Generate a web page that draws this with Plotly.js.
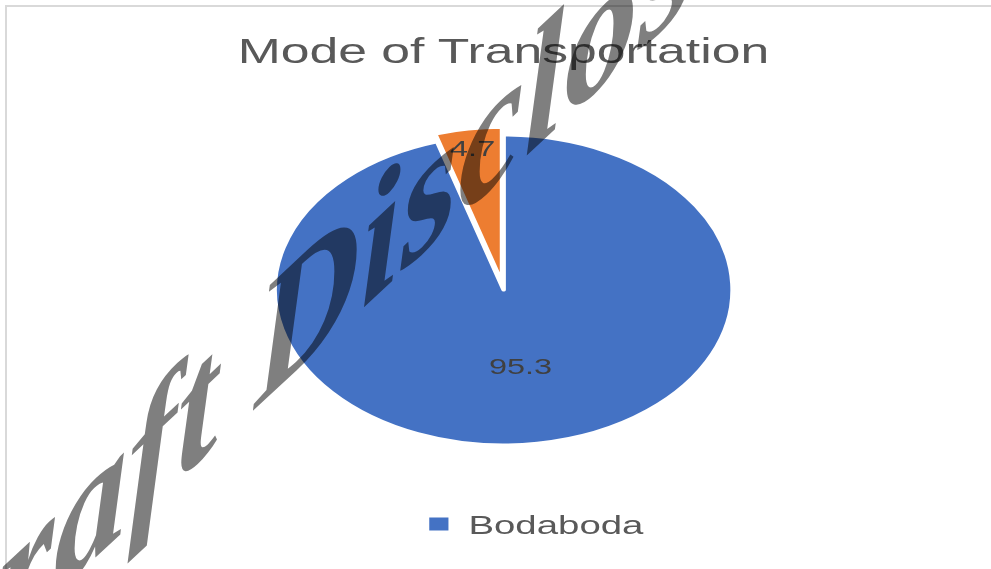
<!DOCTYPE html>
<html>
<head>
<meta charset="utf-8">
<script src="https://cdn.plot.ly/plotly-3.0.1.min.js"></script>
<style>
  html, body { margin: 0; padding: 0; background: #ffffff; width: 991px; height: 569px; overflow: hidden; position: relative; }
  #frame { position: absolute; left: 5px; top: 5px; width: 1000px; height: 600px; border-top: 2px solid #d9d9d9; border-left: 2px solid #d9d9d9; box-sizing: border-box; }
  #chart { position: absolute; left: 0; top: 0; width: 671px; height: 569px; transform: scaleX(1.477); transform-origin: 0 0; }
  #wm { position: absolute; left: 395px; top: 222px; transform: translate(-50%, -50%) skewY(-43deg) scale(1.05, 1.2);
        font-family: "Liberation Serif", "DejaVu Serif", serif; font-weight: bold; font-style: italic;
        font-size: 140px; line-height: 1; color: #7f7f7f; white-space: nowrap; mix-blend-mode: multiply; pointer-events: none; }
</style>
</head>
<body>
<div id="chart"></div>
<div id="frame"></div>
<div id="wm">Draft Disclosure</div>
<script>
const chartTitle = 'Mode of Transportation';
const categories = ['Bodaboda', 'Other'];
const shares = [95.3, 4.7];
const sliceColors = ['#4472C4', '#ED7D31'];
const legendCategories = ['Bodaboda'];

const pieTrace = {
  type: 'pie',
  labels: categories,
  values: shares,
  sort: false,
  direction: 'clockwise',
  rotation: 0,
  pull: [0, 0.05],
  marker: { colors: sliceColors, line: { color: '#ffffff', width: 3 } },
  texttemplate: '%{value}',
  textposition: 'inside',
  insidetextorientation: 'horizontal',
  textfont: { family: 'Liberation Sans, Arial, sans-serif', size: 22, color: '#404040' },
  hoverinfo: 'skip',
  showlegend: false,
  domain: { x: [0.2657, 0.7507], y: [0.2043, 0.7764] }
};

const legendTrace = {
  type: 'scatter',
  mode: 'markers',
  name: legendCategories[0],
  x: [null],
  y: [null],
  marker: { symbol: 'square', size: 13, color: sliceColors[0] },
  showlegend: true,
  hoverinfo: 'skip'
};

const layout = {
  width: 671,
  height: 569,
  margin: { l: 0, r: 0, t: 0, b: 0 },
  paper_bgcolor: 'rgba(0,0,0,0)',
  plot_bgcolor: 'rgba(0,0,0,0)',
  title: {
    text: chartTitle,
    x: 0.508, xanchor: 'center',
    y: 0.911, yanchor: 'middle',
    font: { family: 'Liberation Sans, Arial, sans-serif', size: 35, color: '#595959' }
  },
  xaxis: { visible: false },
  yaxis: { visible: false },
  showlegend: true,
  legend: {
    x: 0.413, xanchor: 'left',
    y: 0.079, yanchor: 'middle',
    orientation: 'h',
    font: { family: 'Liberation Sans, Arial, sans-serif', size: 26, color: '#595959' },
    bgcolor: 'rgba(0,0,0,0)'
  }
};

Plotly.newPlot('chart', [pieTrace, legendTrace], layout, { displayModeBar: false, staticPlot: true });
</script>
</body>
</html>
